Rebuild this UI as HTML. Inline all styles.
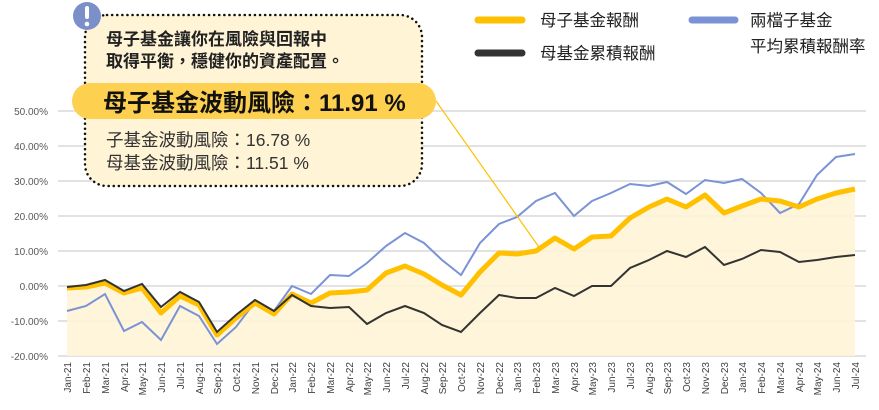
<!DOCTYPE html>
<html><head><meta charset="utf-8"><style>
body{margin:0;background:#fff;}
svg{display:block;font-family:"Liberation Sans","Noto Sans CJK TC",sans-serif;}
</style></head><body>
<svg width="879" height="410" viewBox="0 0 879 410" xmlns="http://www.w3.org/2000/svg">
<g stroke="#d9d9d9" stroke-width="1.5">
<line x1="58" x2="866" y1="111" y2="111"/><line x1="58" x2="866" y1="146" y2="146"/>
<line x1="58" x2="866" y1="181" y2="181"/><line x1="58" x2="866" y1="216" y2="216"/>
<line x1="58" x2="866" y1="251" y2="251"/><line x1="58" x2="866" y1="286" y2="286"/>
<line x1="58" x2="866" y1="321" y2="321"/><line x1="58" x2="866" y1="356" y2="356"/>
</g>
<g font-size="10" fill="#595959" text-anchor="end">
<text x="48" y="115">50.00%</text><text x="48" y="150">40.00%</text><text x="48" y="185">30.00%</text>
<text x="48" y="220">20.00%</text><text x="48" y="255">10.00%</text><text x="48" y="290">0.00%</text>
<text x="48" y="325">-10.00%</text><text x="48" y="360">-20.00%</text>
</g>
<polygon fill="#fff4d6" opacity="0.9" points="67,356 67,288 86,287 105,283 124,293 142,288 161,313 180,296 199,305 217,335 236,318 255,303 274,314 292,294 311,303 330,293 349,292 367,290 386,273 405,266 424,274 442,285 461,295 480,272 499,253 517,254 536,251 555,238 574,249 592,237 611,236 630,218 649,207 667,199 686,207 705,195 724,213 742,206 761,199 780,201 799,207 817,199 836,193 855,189 855,356"/>
<polyline fill="none" stroke="#7b93d6" stroke-width="2" points="67,311 86,306 105,294 124,331 142,322 161,340 180,306 199,316 217,344 236,327 255,302 274,311 292,286 311,294 330,275 349,276 367,263 386,246 405,233 424,243 442,260 461,275 480,243 499,224 517,217 536,201 555,193 574,216 592,201 611,193 630,184 649,186 667,182 686,194 705,180 724,183 742,179 761,193 780,213 799,204 817,175 836,157 855,154"/>
<polyline fill="none" stroke="#ffc000" stroke-width="5" stroke-linejoin="round" points="67,288 86,287 105,283 124,293 142,288 161,313 180,296 199,305 217,335 236,318 255,303 274,314 292,294 311,303 330,293 349,292 367,290 386,273 405,266 424,274 442,285 461,295 480,272 499,253 517,254 536,251 555,238 574,249 592,237 611,236 630,218 649,207 667,199 686,207 705,195 724,213 742,206 761,199 780,201 799,207 817,199 836,193 855,189"/>
<polyline fill="none" stroke="#333" stroke-width="2" points="67,287 86,285 105,280 124,291 142,284 161,307 180,292 199,302 217,332 236,315 255,300 274,311 292,295 311,306 330,308 349,307 367,324 386,313 405,306 424,313 442,325 461,332 480,313 499,295 517,298 536,298 555,288 574,296 592,286 611,286 630,268 649,260 667,251 686,257 705,247 724,265 742,259 761,250 780,252 799,262 817,260 836,257 855,255"/>
<g font-size="10" fill="#404040" text-anchor="end">
<text transform="translate(71,362) rotate(-90)">Jan-21</text><text transform="translate(90,362) rotate(-90)">Feb-21</text><text transform="translate(109,362) rotate(-90)">Mar-21</text><text transform="translate(128,362) rotate(-90)">Apr-21</text><text transform="translate(146,362) rotate(-90)">May-21</text><text transform="translate(165,362) rotate(-90)">Jun-21</text><text transform="translate(184,362) rotate(-90)">Jul-21</text><text transform="translate(203,362) rotate(-90)">Aug-21</text><text transform="translate(221,362) rotate(-90)">Sep-21</text><text transform="translate(240,362) rotate(-90)">Oct-21</text><text transform="translate(259,362) rotate(-90)">Nov-21</text><text transform="translate(278,362) rotate(-90)">Dec-21</text>
<text transform="translate(296,362) rotate(-90)">Jan-22</text><text transform="translate(315,362) rotate(-90)">Feb-22</text><text transform="translate(334,362) rotate(-90)">Mar-22</text><text transform="translate(353,362) rotate(-90)">Apr-22</text><text transform="translate(371,362) rotate(-90)">May-22</text><text transform="translate(390,362) rotate(-90)">Jun-22</text><text transform="translate(409,362) rotate(-90)">Jul-22</text><text transform="translate(428,362) rotate(-90)">Aug-22</text><text transform="translate(446,362) rotate(-90)">Sep-22</text><text transform="translate(465,362) rotate(-90)">Oct-22</text><text transform="translate(484,362) rotate(-90)">Nov-22</text><text transform="translate(503,362) rotate(-90)">Dec-22</text>
<text transform="translate(521,362) rotate(-90)">Jan-23</text><text transform="translate(540,362) rotate(-90)">Feb-23</text><text transform="translate(559,362) rotate(-90)">Mar-23</text><text transform="translate(578,362) rotate(-90)">Apr-23</text><text transform="translate(596,362) rotate(-90)">May-23</text><text transform="translate(615,362) rotate(-90)">Jun-23</text><text transform="translate(634,362) rotate(-90)">Jul-23</text><text transform="translate(653,362) rotate(-90)">Aug-23</text><text transform="translate(671,362) rotate(-90)">Sep-23</text><text transform="translate(690,362) rotate(-90)">Oct-23</text><text transform="translate(709,362) rotate(-90)">Nov-23</text><text transform="translate(728,362) rotate(-90)">Dec-23</text>
<text transform="translate(746,362) rotate(-90)">Jan-24</text><text transform="translate(765,362) rotate(-90)">Feb-24</text><text transform="translate(784,362) rotate(-90)">Mar-24</text><text transform="translate(803,362) rotate(-90)">Apr-24</text><text transform="translate(821,362) rotate(-90)">May-24</text><text transform="translate(840,362) rotate(-90)">Jun-24</text><text transform="translate(859,362) rotate(-90)">Jul-24</text>
</g>
<line x1="436" y1="101" x2="541" y2="250" stroke="#ffc000" stroke-width="1.2"/>
<rect x="85" y="15" width="337" height="171" rx="22" fill="#fff4d6" stroke="#111" stroke-width="2.5" stroke-dasharray="0.1 5" stroke-linecap="round"/>
<circle cx="87" cy="16" r="14" fill="#7b8fc9"/>
<rect x="85" y="6" width="4" height="13" rx="2" fill="#fff"/><circle cx="87" cy="24" r="2.3" fill="#fff"/>
<text x="106" y="45" font-size="17" font-weight="bold" fill="#222">母子基金讓你在風險與回報中</text>
<text x="106" y="67" font-size="17" font-weight="bold" fill="#222">取得平衡，穩健你的資產配置。</text>
<rect x="72" y="83" width="364" height="36" rx="18" fill="#fdd04f"/>
<text x="103" y="111" font-size="24" font-weight="bold" fill="#111">母子基金波動風險：11.91 %</text>
<text x="106" y="146" font-size="17.5" fill="#333">子基金波動風險：16.78 %</text>
<text x="106" y="169" font-size="17.5" fill="#333">母基金波動風險：11.51 %</text>
<line x1="478" y1="20" x2="522" y2="20" stroke="#ffc000" stroke-width="7" stroke-linecap="round"/>
<text x="540" y="26" font-size="16.5" fill="#222">母子基金報酬</text>
<line x1="478" y1="53" x2="522" y2="53" stroke="#333" stroke-width="7" stroke-linecap="round"/>
<text x="540" y="59" font-size="16.5" fill="#222">母基金累積報酬</text>
<line x1="692" y1="20" x2="735" y2="20" stroke="#7b93d6" stroke-width="7" stroke-linecap="round"/>
<text x="750" y="26" font-size="16.5" fill="#222">兩檔子基金</text>
<text x="750" y="52" font-size="16.5" fill="#222">平均累積報酬率</text>
</svg>
</body></html>
